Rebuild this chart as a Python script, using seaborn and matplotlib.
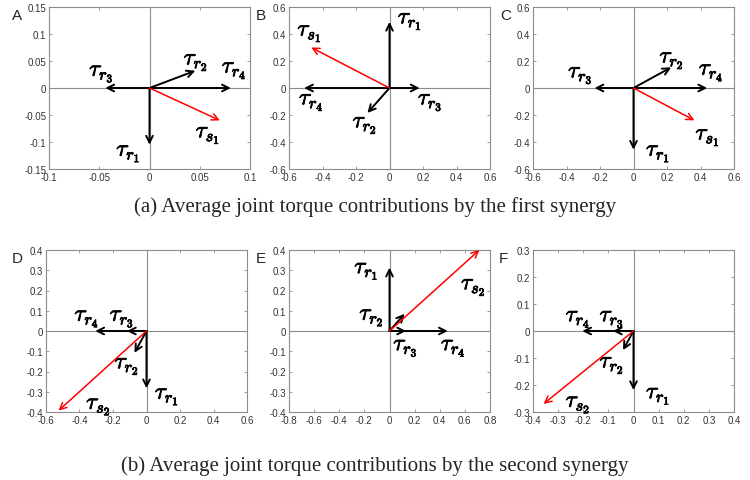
import numpy as np
import matplotlib
matplotlib.use("Agg")
import matplotlib.pyplot as plt
import matplotlib.patheffects as pe
import seaborn as sns

# ---- data: vector tips (r1, r2, r3, r4, synergy) per panel ----
a_x = [0.0, 0.0456, -0.044, 0.081, 0.070]
a_y = [-0.105, 0.032, 0.0, 0.0, -0.060]
b_x = [0.0, -0.132, 0.18, -0.51, -0.467]
b_y = [0.49, -0.185, 0.0, 0.0, 0.30]
c_x = [0.0, 0.225, -0.233, 0.44, 0.364]
c_y = [-0.457, 0.153, 0.0, 0.0, -0.24]
d_x = [0.0, -0.072, -0.117, -0.306, -0.525]
d_y = [-0.283, -0.108, 0.0, 0.0, -0.393]
e_x = [0.0, 0.12, 0.132, 0.464, 0.715]
e_y = [0.313, 0.085, 0.0, 0.0, 0.40]
f_x = [0.0, -0.042, -0.082, -0.204, -0.358]
f_y = [-0.219, -0.071, 0.0, 0.0, -0.27]

labels_1 = [r"$\tau_{r_1}$", r"$\tau_{r_2}$", r"$\tau_{r_3}$", r"$\tau_{r_4}$", r"$\tau_{s_1}$"]
labels_2 = [r"$\tau_{r_1}$", r"$\tau_{r_2}$", r"$\tau_{r_3}$", r"$\tau_{r_4}$", r"$\tau_{s_2}$"]

# label anchor (left, centre) in data units
a_lab = [(-0.033, -0.12), (0.034, 0.049), (-0.06, 0.028), (0.072, 0.034), (0.046, -0.086)]
b_lab = [(0.05, 0.5), (-0.22, -0.27), (0.17, -0.1), (-0.54, -0.1), (-0.55, 0.41)]
c_lab = [(0.075, -0.48), (0.155, 0.21), (-0.39, 0.1), (0.39, 0.12), (0.37, -0.36)]
d_lab = [(0.05, -0.32), (-0.19, -0.17), (-0.22, 0.065), (-0.43, 0.065), (-0.36, -0.37)]
e_lab = [(-0.28, 0.30), (-0.24, 0.07), (0.03, -0.08), (0.41, -0.08), (0.57, 0.22)]
f_lab = [(0.05, -0.238), (-0.135, -0.124), (-0.135, 0.047), (-0.27, 0.047), (-0.27, -0.27)]

a_ticks = ([-0.1, -0.05, 0, 0.05, 0.1], [-0.15, -0.1, -0.05, 0, 0.05, 0.1, 0.15])
b_ticks = ([-0.6, -0.4, -0.2, 0, 0.2, 0.4, 0.6], [-0.6, -0.4, -0.2, 0, 0.2, 0.4, 0.6])
c_ticks = b_ticks
d_ticks = ([-0.6, -0.4, -0.2, 0, 0.2, 0.4, 0.6], [-0.4, -0.3, -0.2, -0.1, 0, 0.1, 0.2, 0.3, 0.4])
e_ticks = ([-0.8, -0.6, -0.4, -0.2, 0, 0.2, 0.4, 0.6, 0.8], [-0.4, -0.3, -0.2, -0.1, 0, 0.1, 0.2, 0.3, 0.4])
f_ticks = ([-0.4, -0.3, -0.2, -0.1, 0, 0.1, 0.2, 0.3, 0.4], [-0.3, -0.2, -0.1, 0, 0.1, 0.2, 0.3])

captions = ["(a) Average joint torque contributions by the first synergy",
            "(b) Average joint torque contributions by the second synergy"]

sns.set_theme(style="ticks", rc={"axes.edgecolor": "#8c8c8c", "xtick.color": "#8c8c8c",
                                 "ytick.color": "#8c8c8c", "xtick.direction": "in",
                                 "ytick.direction": "in"})
plt.rcParams["font.family"] = ["Liberation Sans", "DejaVu Sans"]
plt.rcParams["mathtext.fontset"] = "cm"

fig = plt.figure(figsize=(7.5, 4.81), dpi=100)

W, H = 750.0, 481.0
# (letter, x, y, ticks, labels, label positions, left px, top px, letter offset px)
panels = [
    ("A", a_x, a_y, a_ticks, labels_1, a_lab, 49, 8, 37),
    ("B", b_x, b_y, b_ticks, labels_1, b_lab, 289, 8, 33),
    ("C", c_x, c_y, c_ticks, labels_1, c_lab, 533, 8, 33),
    ("D", d_x, d_y, d_ticks, labels_2, d_lab, 46, 251, 34),
    ("E", e_x, e_y, e_ticks, labels_2, e_lab, 289, 251, 33),
    ("F", f_x, f_y, f_ticks, labels_2, f_lab, 533, 251, 34),
]

for letter, xs, ys, ticks, labs, lpos, left, top, loff in panels:
    ax = fig.add_axes([left / W, 1 - (top + 162) / H, 201 / W, 162 / H])
    xt, yt = ticks
    ax.set_xlim(xt[0], xt[-1])
    ax.set_ylim(yt[0], yt[-1])
    ax.set_xticks(xt)
    ax.set_yticks(yt)
    ax.set_xticklabels([f"{v:g}" for v in xt], color="#333333", fontsize=7)
    ax.set_yticklabels([f"{v:g}" for v in yt], color="#333333", fontsize=7)
    ax.tick_params(length=2, width=0.6, top=True, right=True, pad=2)
    for sp in ax.spines.values():
        sp.set_linewidth(0.8)
    ax.axhline(0, color="#8c8c8c", lw=0.8, zorder=0)
    ax.axvline(0, color="#8c8c8c", lw=0.8, zorder=0)

    for i, (vx, vy) in enumerate(zip(xs, ys)):
        col = "red" if i == 4 else "black"
        ax.annotate("", xy=(vx, vy), xytext=(0, 0),
                    arrowprops=dict(arrowstyle="->", color=col, lw=1.4 if i < 4 else 1.1,
                                    shrinkA=0, shrinkB=0, mutation_scale=12))
        tx, ty = lpos[i]
        ax.text(tx, ty, labs[i], ha="left", va="center", fontsize=16.5, color="black",
                path_effects=[pe.withStroke(linewidth=0.6, foreground="black")])

    fig.text((left - loff) / W, 1 - (top + 8) / H, letter, fontsize=11, ha="left", va="center")

fig.text(0.5, 1 - 207 / H, captions[0], ha="center", va="center",
         fontfamily="Liberation Serif", fontsize=15)
fig.text(0.5, 1 - 466 / H, captions[1], ha="center", va="center",
         fontfamily="Liberation Serif", fontsize=15)

fig.savefig("out.png", dpi=100)
